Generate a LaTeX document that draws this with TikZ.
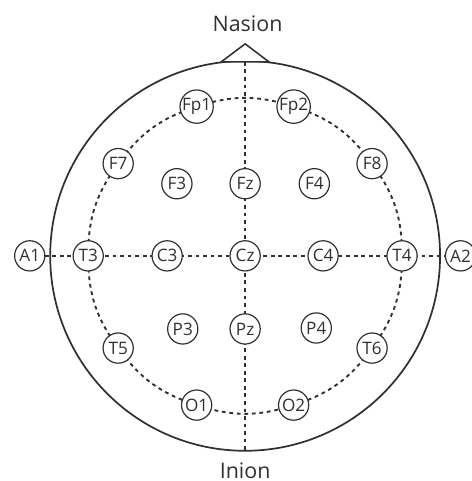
\documentclass[tikz,border=0pt]{standalone}
\usepackage{fontspec}
\setmainfont{Open Sans}
\usetikzlibrary{backgrounds}
\definecolor{inkgray}{HTML}{303030}
\begin{document}
\begin{tikzpicture}[
    electrode/.style={circle, draw=inkgray, line width=0.7pt, fill=white, minimum size=0.62cm, inner sep=0pt, text=inkgray, font=\fontsize{10}{10}\selectfont},
    link/.style={inkgray, line width=1.1pt, dash pattern=on 2.2pt off 2.2pt},
    landmark/.style={text=inkgray, font=\fontsize{12.5}{12.5}\selectfont}
]
    \useasboundingbox (-5.03,-4.62) rectangle (4.64,5.25);
    % Head outline
    \draw[inkgray, line width=1pt] (0,0) circle (4);
    \coordinate (nz) at (0,3.98);
    \coordinate (iz) at (0,-4);
    \draw[inkgray, line width=0.9pt, fill=white] (-0.49,3.98) -- (0,4.35) -- (0.49,3.98) -- cycle;
    \node[landmark] (nasion) at (0.05,4.76) {Nasion};
    \node[landmark] (inion) at (0,-4.4) {Inion};
    % Outer ring of electrodes
    \node[electrode] (Fp1) at (108:3.22) {Fp1}; \node[electrode] (Fp2) at (72:3.22) {Fp2};
    \node[electrode] (F7) at (144:3.22) {F7}; \node[electrode] (F8) at (36:3.22) {F8};
    \node[electrode] (T3) at (180:3.22) {T3}; \node[electrode] (T4) at (0:3.22) {T4};
    \node[electrode] (T5) at (216:3.22) {T5}; \node[electrode] (T6) at (-36:3.22) {T6};
    \node[electrode] (O1) at (252:3.22) {O1}; \node[electrode] (O2) at (-72:3.22) {O2};
    % Inner electrodes
    \node[electrode] (F3) at (-1.4,1.48) {F3}; \node[electrode] (Fz) at (0,1.48) {Fz}; \node[electrode] (F4) at (1.42,1.48) {F4};
    \node[electrode] (C3) at (-1.6,0) {C3}; \node[electrode] (Cz) at (0,0) {Cz}; \node[electrode] (C4) at (1.6,0) {C4};
    \node[electrode] (P3) at (-1.28,-1.5) {P3}; \node[electrode] (Pz) at (0,-1.5) {Pz}; \node[electrode] (P4) at (1.46,-1.48) {P4};
    % Ear electrodes
    \node[electrode] (A1) at (-4.42,0) {A1}; \node[electrode] (A2) at (4.42,0) {A2};
    \begin{scope}[on background layer]
    % Midlines
    \draw[link] (nz) -- (Fz.center) -- (Cz.center) -- (Pz.center) -- (iz);
    \draw[link] (A1.center) -- (A2.center);
    % Ring
    \draw[link] (Fp1.center) to[bend right=18] (F7.center) to[bend right=18] (T3.center) to[bend right=18] (T5.center) to[bend right=18] (O1.center) to[bend right=18] (O2.center);
    \draw[link] (O2.center) to[bend right=18] (T6.center) to[bend right=18] (T4.center) to[bend right=18] (F8.center) to[bend right=18] (Fp2.center) to[bend right=18] (Fp1.center);
    \end{scope}
\end{tikzpicture}
\end{document}
